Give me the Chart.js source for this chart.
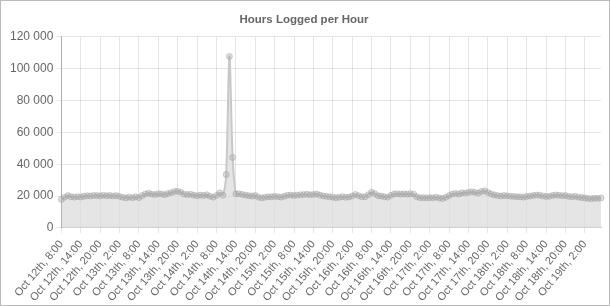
<!DOCTYPE html>
<html>
<head>
<meta charset="utf-8">
<script src="https://cdn.jsdelivr.net/npm/chart.js@4/dist/chart.umd.min.js"></script>
<style>
  body { margin: 0; background: #fff; }
  #wrap { width: 608px; height: 304px; border: 1px solid #bbb; }
</style>
</head>
<body>
<div id="wrap"><canvas id="chart" width="608" height="304"></canvas></div>
<script>
  // hourly buckets, Oct 12th 8:00 -> Oct 19th 7:00
  const startDay = 12;
  const startHour = 8;
  const hoursLogged = [
    17900, 19200, 20300, 19600, 19300, 19600, 19400, 19800, 20200, 20000,
    20400, 20300, 20100, 20500, 20200, 20400, 20000, 20300, 19700, 19200,
    18800, 19300, 18900, 19500, 19000, 20300, 21300, 21800, 21200, 20900,
    21500, 21300, 20800, 21600, 22100, 22900, 23000, 22400, 21200, 20900,
    21200, 20500, 20200, 20600, 20300, 20800, 19900, 19300, 20400, 22000,
    20500, 33500, 107700, 44200, 21300, 21500, 21000, 20600, 20200, 20000,
    20400, 19300, 18800, 19200, 19600, 19500, 19800, 19600, 19300, 19900,
    20500, 20600, 20300, 20600, 20800, 20900, 21100, 20800, 21000, 21300,
    20600, 20100, 19800, 19500, 19300, 19000, 19200, 19600, 19200, 19400,
    20000, 21000, 20200, 19500, 19600, 20800, 22400, 21500, 20200, 20000,
    19500, 19300, 20500, 21300, 21500, 21200, 21400, 21100, 21500, 21200,
    19500, 18900, 19000, 18800, 19000, 18900, 19300, 18700, 18400, 19200,
    20300, 21300, 21600, 21200, 22000, 21900, 22300, 22700, 22300, 21800,
    22900, 23300, 22200, 21300, 20700, 20300, 20000, 20400, 20100, 19900,
    19700, 19600, 19500, 19300, 19700, 20000, 20300, 20600, 20500, 20100,
    19700, 19800, 20300, 20700, 20500, 20200, 20400, 19700, 19500, 19800,
    19300, 19100, 18800, 18500, 18300, 18700, 18500, 18800
  ];

  // build the hour labels
  const labels = [];
  for (let i = 0; i < hoursLogged.length; i++) {
    const h = startHour + i;
    const day = startDay + Math.floor(h / 24);
    labels.push(`Oct ${day}th, ${h % 24}:00`);
  }

  const fmt = v => String(v).replace(/\B(?=(\d{3})+(?!\d))/g, " ");
  const font = "'Liberation Sans', Arial, sans-serif";

  new Chart(document.getElementById("chart"), {
    type: "line",
    data: {
      labels: labels,
      datasets: [{
        data: hoursLogged,
        fill: true,
        backgroundColor: "rgba(220,220,220,0.75)",
        borderColor: "rgba(200,200,200,1)",
        borderWidth: 2,
        pointRadius: 3,
        pointBorderWidth: 1,
        pointBackgroundColor: "rgba(170,170,170,0.4)",
        pointBorderColor: "rgba(150,150,150,0.4)",
        tension: 0.3
      }]
    },
    options: {
      responsive: false,
      animation: false,
      layout: { padding: { right: 8, left: 6, bottom: -4 } },
      plugins: {
        legend: { display: false },
        tooltip: { enabled: false },
        title: {
          display: true,
          text: "Hours Logged per Hour",
          color: "#666",
          font: { family: font, size: 11.5, weight: "bold" },
          padding: { top: 12, bottom: 10 }
        }
      },
      scales: {
        x: {
          grid: { color: "rgba(0,0,0,0.1)", tickLength: 5 },
          border: { color: "rgba(0,0,0,0.25)" },
          ticks: {
            autoSkip: false,
            minRotation: 50,
            maxRotation: 50,
            padding: 5,
            color: "#666",
            font: { family: font, size: 11 },
            callback: (v, i) => (i % 6 === 0 ? labels[i] : null)
          }
        },
        y: {
          min: 0,
          max: 120000,
          grid: { color: "rgba(0,0,0,0.1)", tickLength: 5 },
          border: { color: "rgba(0,0,0,0.25)" },
          ticks: {
            stepSize: 20000,
            color: "#666",
            font: { family: font, size: 12 },
            callback: v => fmt(v)
          }
        }
      }
    }
  });
</script>
</body>
</html>
